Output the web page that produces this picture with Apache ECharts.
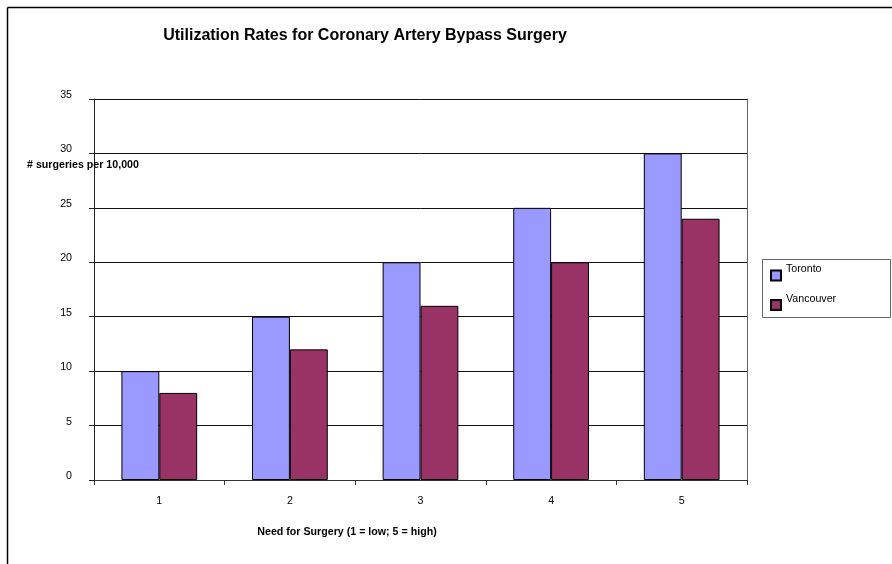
<!DOCTYPE html>
<html>
<head>
<meta charset="utf-8">
<script src="https://cdn.jsdelivr.net/npm/echarts@6/dist/echarts.min.js"></script>
<style>
  html, body { margin: 0; padding: 0; background: #fff; }
  #chart { width: 892px; height: 564px; }
</style>
</head>
<body>
<div id="chart"></div>
<script>
// Need-for-surgery levels and surgery rates per 10,000 population
const categories = ['1', '2', '3', '4', '5'];
const toronto = [10, 15, 20, 25, 30];
const vancouver = [8, 12, 16, 20, 24];
const yTicks = { min: 0, max: 35, interval: 5 };

const FONT = '"Liberation Sans", Arial, sans-serif';
const SMALL = 10.67; // 8pt
const chart = echarts.init(document.getElementById('chart'));

chart.setOption({
  backgroundColor: '#ffffff',
  animation: false,
  textStyle: { fontFamily: FONT, color: '#000' },
  grid: { left: 94, right: 145, top: 99, bottom: 84, containLabel: false },
  legend: {
    orient: 'vertical',
    left: 765,
    top: 259,
    itemWidth: 10,
    itemHeight: 10,
    itemGap: 12,
    icon: 'rect',
    formatter: '{t|{name}}',
    textStyle: {
      fontFamily: FONT, fontSize: SMALL, color: '#000',
      rich: { t: { fontFamily: FONT, fontSize: SMALL, color: '#000', padding: [0, 0, 12, 0] } }
    },
    data: ['Toronto', 'Vancouver']
  },
  xAxis: {
    type: 'category',
    data: categories,
    axisLine: { show: true, lineStyle: { color: '#333', width: 1 } },
    axisTick: { show: true, length: 5, lineStyle: { color: '#333' } },
    axisLabel: { fontFamily: FONT, fontSize: SMALL, color: '#000', margin: 16 }
  },
  yAxis: [{
    type: 'value',
    min: yTicks.min,
    max: yTicks.max,
    interval: yTicks.interval,
    axisLine: { show: true, lineStyle: { color: '#222', width: 1 } },
    axisTick: { show: true, length: 5, lineStyle: { color: '#222' } },
    axisLabel: {
      fontFamily: FONT, fontSize: SMALL, color: '#000', margin: 22,
      formatter: '{v|{value}}',
      rich: { v: { fontFamily: FONT, fontSize: SMALL, color: '#000', padding: [0, 0, 8, 0] } }
    },
    splitLine: { show: true, lineStyle: { color: '#111', width: 1 } }
  }, {
    type: 'value',
    position: 'right',
    min: yTicks.min,
    max: yTicks.max,
    interval: yTicks.interval,
    axisLine: { show: true, lineStyle: { color: '#666', width: 1 } },
    axisTick: { show: false },
    axisLabel: { show: false },
    splitLine: { show: false }
  }],
  series: [{
    name: 'Toronto',
    type: 'bar',
    data: toronto,
    barGap: '0%',
    barCategoryGap: '42%',
    itemStyle: { color: '#9999FF', borderColor: '#000', borderWidth: 1 }
  }, {
    name: 'Vancouver',
    type: 'bar',
    data: vancouver,
    itemStyle: { color: '#993366', borderColor: '#000', borderWidth: 1 }
  }],
  graphic: [
    // outer chart-area frame (left and top edges)
    { type: 'line', shape: { x1: 7.5, y1: 7.5, x2: 892, y2: 7.5 }, style: { stroke: '#000', lineWidth: 1.5 } },
    { type: 'line', shape: { x1: 7.5, y1: 7.5, x2: 7.5, y2: 564 }, style: { stroke: '#000', lineWidth: 1.5 } },
    // legend frame
    { type: 'rect', shape: { x: 762.5, y: 259.5, width: 128, height: 58 }, style: { fill: 'none', stroke: '#666', lineWidth: 1 }, z: 0 },
    {
      type: 'text', x: 365, y: 36,
      style: { text: 'Utilization Rates for Coronary Artery Bypass Surgery', font: 'bold 16px ' + FONT, fill: '#000', textAlign: 'center', textVerticalAlign: 'middle' }
    },
    {
      type: 'text', x: 27, y: 165,
      style: { text: '# surgeries per 10,000', font: 'bold ' + SMALL + 'px ' + FONT, fill: '#000', textAlign: 'left', textVerticalAlign: 'middle' }, z: 10
    },
    {
      type: 'text', x: 347, y: 532,
      style: { text: 'Need for Surgery (1 = low; 5 = high)', font: 'bold ' + SMALL + 'px ' + FONT, fill: '#000', textAlign: 'center', textVerticalAlign: 'middle' }
    }
  ]
});
</script>
</body>
</html>
